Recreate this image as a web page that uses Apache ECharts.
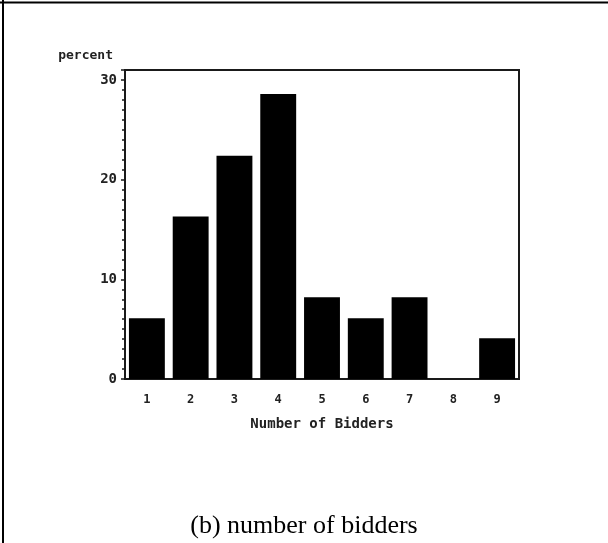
<!DOCTYPE html>
<html>
<head>
<meta charset="utf-8">
<script src="https://cdn.jsdelivr.net/npm/echarts@6/dist/echarts.min.js"></script>
<style>
html,body{margin:0;padding:0;background:#fff;}
#chart{width:608px;height:543px;}
</style>
</head>
<body>
<div id="chart"></div>
<script>
const categories = ['1','2','3','4','5','6','7','8','9'];
const percentValues = [6.1, 16.3, 22.4, 28.6, 8.2, 6.1, 8.2, 0, 4.1];
const yTickLabels = [0, 10, 20, 30];
const xAxisTitle = 'Number of Bidders';
const yAxisTitle = 'percent';
const caption = '(b) number of bidders';

const monoFont = 'DejaVu Sans Mono';
const chart = echarts.init(document.getElementById('chart'), null, {renderer: 'canvas'});
chart.setOption({
  animation: false,
  backgroundColor: '#fff',
  grid: {left: 125, right: 89, top: 70, bottom: 164, show: true, borderColor: '#1a1a1a', borderWidth: 2},
  xAxis: {
    type: 'category',
    data: categories,
    axisLine: {show: true, lineStyle: {color: '#1a1a1a', width: 2}},
    axisTick: {show: false},
    axisLabel: {color: '#222', fontFamily: monoFont, fontWeight: 'bold', fontSize: 12, margin: 15},
    name: xAxisTitle,
    nameLocation: 'middle',
    nameGap: 38,
    nameTextStyle: {color: '#222', fontFamily: monoFont, fontWeight: 'bold', fontSize: 14}
  },
  yAxis: {
    type: 'value',
    min: 0, max: 31, interval: 10,
    splitLine: {show: false},
    axisLine: {show: true, lineStyle: {color: '#1a1a1a', width: 2}},
    axisTick: {show: true, length: 4, lineStyle: {color: '#1a1a1a', width: 1.5}},
    minorTick: {show: true, splitNumber: 10, length: 3, lineStyle: {color: '#1a1a1a', width: 1.5}},
    axisLabel: {
      color: '#222', fontFamily: monoFont, fontWeight: 'bold', fontSize: 14, margin: 8,
      formatter: v => (yTickLabels.indexOf(v) >= 0 ? String(v) : '')
    },
    name: yAxisTitle,
    nameLocation: 'end',
    nameGap: 8,
    nameTextStyle: {color: '#222', fontFamily: monoFont, fontWeight: 'bold', fontSize: 13, align: 'right', padding: [0, 12, 0, 0]}
  },
  series: [{
    type: 'bar',
    data: percentValues,
    barCategoryGap: '18%',
    itemStyle: {color: '#000'}
  }],
  graphic: [
    {type: 'line', shape: {x1: 3, y1: 0, x2: 3, y2: 543}, style: {stroke: '#000', lineWidth: 2}},
    {type: 'line', shape: {x1: 0, y1: 2.5, x2: 608, y2: 2.5}, style: {stroke: '#000', lineWidth: 2}},
    {type: 'text', left: 'center', top: 513, style: {text: caption, font: '26px "Liberation Serif"', fill: '#000'}}
  ]
});
</script>
</body>
</html>
